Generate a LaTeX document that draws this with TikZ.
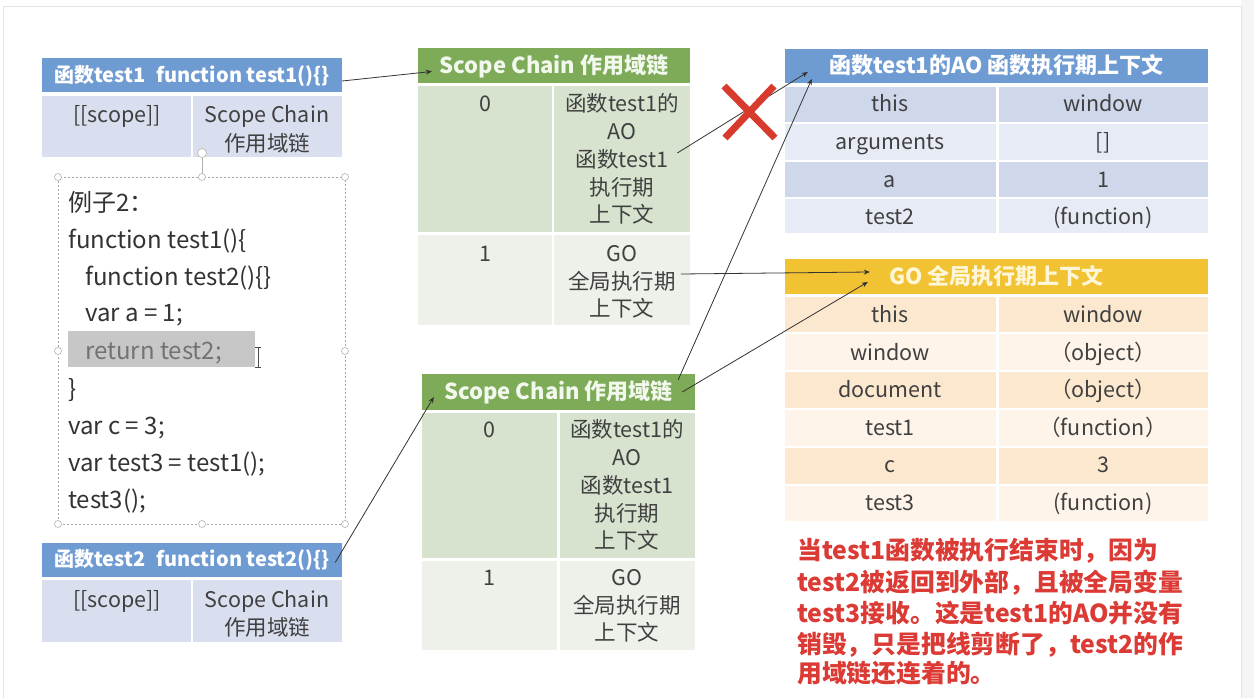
\documentclass[tikz,border=0pt]{standalone}
\usepackage{fontspec}
\setmainfont{Noto Sans CJK SC}
\usetikzlibrary{arrows.meta}
\definecolor{hblue}{HTML}{6F9BD3}
\definecolor{rblue}{HTML}{D9DFEE}
\definecolor{rblueA}{HTML}{CFD8EB}
\definecolor{rblueB}{HTML}{E7EBF5}
\definecolor{hgreen}{HTML}{7DAB58}
\definecolor{rgreenA}{HTML}{D7E3CE}
\definecolor{rgreenB}{HTML}{EDF1EA}
\definecolor{hgold}{HTML}{F1C333}
\definecolor{rgoldA}{HTML}{FCE8CF}
\definecolor{rgoldB}{HTML}{FEF4E9}
\definecolor{txtgray}{HTML}{404040}
\definecolor{codegray}{HTML}{333333}
\definecolor{redtxt}{HTML}{DC3A34}
\definecolor{xred}{HTML}{D83A2E}
\definecolor{framegray}{HTML}{E3E3E3}
\definecolor{goldtxt}{HTML}{FFF6D8}
\definecolor{greentxt}{HTML}{F3F8EE}
\tikzset{
  hdr/.style={inner sep=0pt, text=white, font=\fontsize{20}{24}\selectfont\bfseries, text height=14.4pt, text depth=0pt},
  hdrb/.style={inner sep=0pt, text=white, font=\fontsize{22}{26}\selectfont\bfseries, text height=15.8pt, text depth=0pt},
  cl/.style={inner sep=1pt, text=txtgray, font=\fontsize{21.5}{25}\selectfont, text height=15.4pt, text depth=0pt},
  code/.style={inner sep=0pt, anchor=west, text=codegray, font=\fontsize{24}{28}\selectfont, text height=17.3pt, text depth=0pt},
  note/.style={inner sep=0pt, anchor=west, text=redtxt, font=\fontsize{24.8}{28}\selectfont\bfseries, text height=17.8pt, text depth=0pt},
  arr/.style={draw=black!80, line width=0.8pt, -{Stealth[length=6pt,width=5pt]}},
  handle/.style={circle, draw=black!30, fill=white, inner sep=0pt, minimum size=7pt, line width=0.6pt},
}
\begin{document}
\begin{tikzpicture}[x=1pt,y=-1pt]
\useasboundingbox (0,0) rectangle (1254,698);
\fill[white] (0,0) rectangle (1254,698);
\fill[black!4] (1241,0) rectangle (1254,698);
\draw[framegray, line width=1pt] (3,698) -- (3,7) -- (1241,7) -- (1241,698);

% ---------- test1 table ----------
\node[hdr, fill=hblue, minimum width=300pt, minimum height=34pt] (t1head) at (192,75) {函数test1\hspace{0.55em}function test1()\{\}};
\fill[rblue] (42,96) rectangle (191,157);
\fill[rblue] (193,96) rectangle (342,157);
\node[cl] (t1scope) at (117,115) {[[scope]]};
\node[cl] (t1sc) at (267,115) {Scope Chain};
\node[cl] (t1zh) at (267,144) {作用域链};

% ---------- code box ----------
\draw[black!35, line width=0.6pt, dash pattern=on 2pt off 2pt] (58,177) rectangle (345,524);
\draw[black!30, line width=0.8pt] (202,158) -- (202,177);
\node[handle, minimum size=9pt] (rot) at (202,153) {};
\node[handle] (h1) at (58,177) {};
\node[handle] (h2) at (202,177) {};
\node[handle] (h3) at (345,177) {};
\node[handle] (h4) at (58,351) {};
\node[handle] (h5) at (345,351) {};
\node[handle] (h6) at (58,524) {};
\node[handle] (h7) at (202,524) {};
\node[handle] (h8) at (345,524) {};
\fill[black!22] (68,331) rectangle (255,367);
\node[code] (c1) at (68,203) {例子2：};
\node[code] (c2) at (68,240) {function test1()\{};
\node[code] (c3) at (85,277) {function test2()\{\}};
\node[code] (c4) at (85,313) {var a = 1;};
\node[code, text=black!55] (c5) at (85,351) {return test2;};
\node[code] (c6) at (68,389) {\}};
\node[code] (c7) at (68,426) {var c = 3;};
\node[code] (c8) at (68,463) {var test3 = test1();};
\node[code] (c9) at (68,500) {test3();};
\draw[black!70, line width=0.8pt] (255,347) -- (261,347) (258,347) -- (258,367) (255,367) -- (261,367);

% ---------- test2 table ----------
\node[hdr, fill=hblue, minimum width=300pt, minimum height=34pt] (t2head) at (192,559.5) {函数test2\hspace{0.55em}function test2()\{\}};
\fill[rblue] (42,580) rectangle (191,642);
\fill[rblue] (193,580) rectangle (342,642);
\node[cl] (t2scope) at (117,600) {[[scope]]};
\node[cl] (t2sc) at (267,600) {Scope Chain};
\node[cl] (t2zh) at (267,628) {作用域链};

% ---------- scope chain 1 ----------
\node[hdrb, fill=hgreen, text=greentxt, minimum width=272pt, minimum height=35pt] (sc1head) at (554,65.5) {Scope Chain 作用域链};
\fill[rgreenA] (418,86) rectangle (552,232);
\fill[rgreenA] (554,86) rectangle (690,232);
\fill[rgreenB] (418,235) rectangle (552,325);
\fill[rgreenB] (554,235) rectangle (690,325);
\node[cl] (sc1i0) at (485,104) {0};
\node[cl] (sc1a) at (622,104) {函数test1的};
\node[cl] (sc1b) at (622,132) {AO};
\node[cl] (sc1c) at (622,160) {函数test1};
\node[cl] (sc1d) at (622,188) {执行期};
\node[cl] (sc1e) at (622,215) {上下文};
\node[cl] (sc1i1) at (485,254) {1};
\node[cl] (sc1f) at (622,254) {GO};
\node[cl] (sc1g) at (622,282) {全局执行期};
\node[cl] (sc1h) at (622,309) {上下文};

% ---------- scope chain 2 ----------
\node[hdrb, fill=hgreen, text=greentxt, minimum width=273pt, minimum height=36pt] (sc2head) at (558.5,392) {Scope Chain 作用域链};
\fill[rgreenA] (422,413) rectangle (557,558);
\fill[rgreenA] (560,413) rectangle (695,558);
\fill[rgreenB] (422,561) rectangle (557,650);
\fill[rgreenB] (560,561) rectangle (695,650);
\node[cl] (sc2i0) at (489,430) {0};
\node[cl] (sc2a) at (627,430) {函数test1的};
\node[cl] (sc2b) at (627,458) {AO};
\node[cl] (sc2c) at (627,486) {函数test1};
\node[cl] (sc2d) at (627,514) {执行期};
\node[cl] (sc2e) at (627,541) {上下文};
\node[cl] (sc2i1) at (489,578) {1};
\node[cl] (sc2f) at (627,578) {GO};
\node[cl] (sc2g) at (627,606) {全局执行期};
\node[cl] (sc2h) at (627,633) {上下文};

% ---------- AO table ----------
\node[hdrb, fill=hblue, minimum width=423pt, minimum height=34pt] (aohead) at (996.5,66) {函数test1的AO 函数执行期上下文};
\fill[rblueA] (785,87) rectangle (996,122);
\fill[rblueA] (999,87) rectangle (1208,122);
\fill[rblueB] (785,124) rectangle (996,160);
\fill[rblueB] (999,124) rectangle (1208,160);
\fill[rblueA] (785,162) rectangle (996,197);
\fill[rblueA] (999,162) rectangle (1208,197);
\fill[rblueB] (785,199) rectangle (996,233);
\fill[rblueB] (999,199) rectangle (1208,233);
\node[cl] (ao1k) at (890,104) {this};
\node[cl] (ao1v) at (1103,104) {window};
\node[cl] (ao2k) at (890,142) {arguments};
\node[cl] (ao2v) at (1103,142) {[]};
\node[cl] (ao3k) at (890,180) {a};
\node[cl] (ao3v) at (1103,180) {1};
\node[cl] (ao4k) at (890,217) {test2};
\node[cl] (ao4v) at (1103,217) {(function)};

% ---------- GO table ----------
\node[hdrb, fill=hgold, text=goldtxt, minimum width=423pt, minimum height=35pt] (gohead) at (996.5,276.5) {GO 全局执行期上下文};
\fill[rgoldA] (785,297) rectangle (996,332);
\fill[rgoldA] (999,297) rectangle (1208,332);
\fill[rgoldB] (785,334) rectangle (996,370);
\fill[rgoldB] (999,334) rectangle (1208,370);
\fill[rgoldA] (785,372) rectangle (996,408);
\fill[rgoldA] (999,372) rectangle (1208,408);
\fill[rgoldB] (785,410) rectangle (996,446);
\fill[rgoldB] (999,410) rectangle (1208,446);
\fill[rgoldA] (785,448) rectangle (996,484);
\fill[rgoldA] (999,448) rectangle (1208,484);
\fill[rgoldB] (785,486) rectangle (996,521);
\fill[rgoldB] (999,486) rectangle (1208,521);
\node[cl] (go1k) at (890,315) {this};
\node[cl] (go1v) at (1103,315) {window};
\node[cl] (go2k) at (890,353) {window};
\node[cl] (go2v) at (1103,353) {（object）};
\node[cl] (go3k) at (890,390) {document};
\node[cl] (go3v) at (1103,390) {（object）};
\node[cl] (go4k) at (890,428) {test1};
\node[cl] (go4v) at (1103,428) {（function）};
\node[cl] (go5k) at (890,465) {c};
\node[cl] (go5v) at (1103,465) {3};
\node[cl] (go6k) at (890,503) {test3};
\node[cl] (go6v) at (1103,503) {(function)};

% ---------- red note ----------
\node[note] (red1) at (797,551) {当test1函数被执行结束时，因为};
\node[note] (red2) at (797,583) {test2被返回到外部，且被全局变量};
\node[note] (red3) at (797,614) {test3接收。这是test1的AO并没有};
\node[note] (red4) at (797,645) {销毁，只是把线剪断了，test2的作};
\node[note] (red5) at (797,674) {用域链还连着的。};

% ---------- connectors ----------
\draw[arr] ([yshift=-6pt]t1head.east) -- ([xshift=14pt,yshift=-6pt]sc1head.west);
\draw[arr] ([xshift=8pt,yshift=7pt]sc1c.east) -- ([xshift=23pt,yshift=-6pt]aohead.west);
\draw[arr] ([xshift=4pt,yshift=8pt]sc1g.east) -- ([xshift=85pt,yshift=4.5pt]gohead.west);
\draw[arr] ([xshift=-17pt,yshift=-6pt]sc2head.north east) -- ([xshift=27pt,yshift=-13pt]aohead.west);
\draw[arr] ([xshift=-13pt]sc2head.east) -- ([xshift=83pt,yshift=-5.5pt]gohead.west);
\draw[arr] ([xshift=-7pt,yshift=-3pt]t2head.east) -- ([xshift=12pt,yshift=-5pt]sc2head.west);

% ---------- red cross ----------
\draw[xred, line width=7pt] (724,86) -- (775,138) (774,86) -- (725,138);
\end{tikzpicture}
\end{document}
